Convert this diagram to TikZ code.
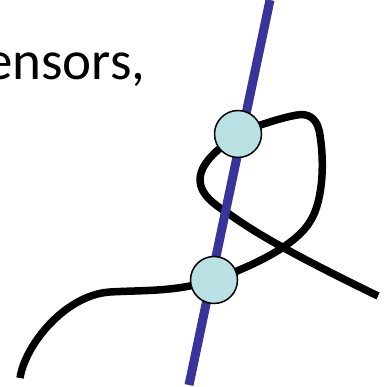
\documentclass[tikz,border=0pt]{standalone}
\usepackage{fontspec}
\setmainfont{Carlito}
\definecolor{lineblue}{HTML}{37349A}
\definecolor{dotfill}{HTML}{B9E0E3}
\begin{document}
\begin{tikzpicture}[x=1pt,y=-1pt,
  curve/.style={line width=7.5pt,black,line cap=butt,line join=round},
  axis/.style={line width=9pt,lineblue},
  dot/.style={circle,draw=black,line width=1.5pt,fill=dotfill,minimum size=47pt,inner sep=0pt}]
\useasboundingbox (0,0) rectangle (385,387);
\clip (0,0) rectangle (385,387);
\node[anchor=base west,inner sep=0pt,font=\fontsize{55}{62}\selectfont] (txt) at (-15,80) {ensors,};
% black curve
\draw[curve] (20,378) .. controls (25,345) and (65,295) .. (110,292)
  .. controls (145,290) and (175,292) .. (214,280)
  .. controls (255,265) and (297,245) .. (311,220)
  .. controls (323,200) and (325,160) .. (319,130)
  .. controls (316,118) and (308,113) .. (297,115)
  .. controls (280,118) and (260,125) .. (238,133)
  .. controls (225,145) and (200,160) .. (200,180)
  .. controls (200,195) and (215,205) .. (232,216)
  .. controls (260,236) and (300,258) .. (378,296);
% blue line
\coordinate (ltop) at (270,0);
\coordinate (lbot) at (189,385);
\draw[axis] (ltop) -- (lbot);
\node[dot] (d1) at (238,134) {};
\node[dot] (d2) at (214,280) {};
\end{tikzpicture}
\end{document}
